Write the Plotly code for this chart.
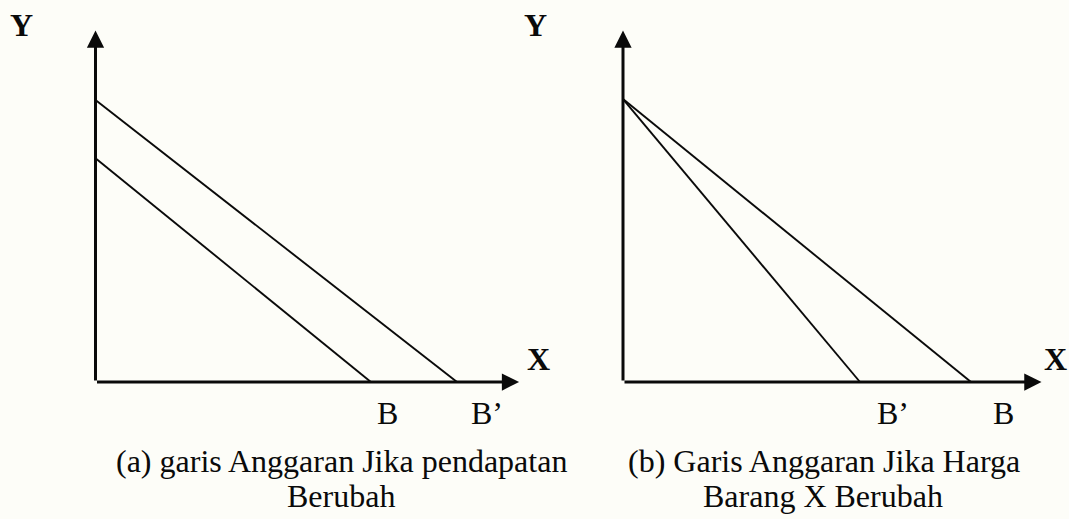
import plotly.graph_objects as go

# ---- data (schematic units) ----
# Panel (a): income change -> parallel budget lines
a_line_B_y = [7.46, 0]      # y-intercept, then 0
a_line_B_x = [0, 9.18]      # 0, then x-intercept B
a_line_Bp_y = [9.4, 0]
a_line_Bp_x = [0, 12.05]    # x-intercept B'
a_axis_x_max = 14.12
a_axis_y_max = 11.72

# Panel (b): price of X change -> rotated budget lines
b_line_Bp_y = [9.43, 0]
b_line_Bp_x = [0, 7.9]      # x-intercept B'
b_line_B_y = [9.43, 0]
b_line_B_x = [0, 11.6]      # x-intercept B
b_axis_x_max = 13.95
b_axis_y_max = 11.72

# labels
a_tick_labels = ["B", "B’"]
a_tick_pos = [9.72, 13.05]
b_tick_labels = ["B’", "B"]
b_tick_pos = [9.0, 12.67]
caption_a = ["(a) garis Anggaran Jika pendapatan", "Berubah"]
caption_b = ["(b) Garis Anggaran Jika Harga", "Barang X Berubah"]

W, H = 1069, 519
PX = 30.0  # pixels per unit
# origin pixel positions
ax0, bx0, y0 = 95.5, 623.0, 382.0

FONT = "Liberation Serif, Times New Roman, serif"
INK = "#0a0a0a"

fig = go.Figure()

line_style = dict(color=INK, width=1.9)
fig.add_trace(go.Scatter(x=a_line_B_x, y=a_line_B_y, mode="lines", line=line_style,
                         xaxis="x", yaxis="y", hoverinfo="skip"))
fig.add_trace(go.Scatter(x=a_line_Bp_x, y=a_line_Bp_y, mode="lines", line=line_style,
                         xaxis="x", yaxis="y", hoverinfo="skip"))
fig.add_trace(go.Scatter(x=b_line_Bp_x, y=b_line_Bp_y, mode="lines", line=line_style,
                         xaxis="x2", yaxis="y2", hoverinfo="skip"))
fig.add_trace(go.Scatter(x=b_line_B_x, y=b_line_B_y, mode="lines", line=line_style,
                         xaxis="x2", yaxis="y2", hoverinfo="skip"))

ann = []
def arrow(xr, yr, x, y):
    ann.append(dict(xref=xr, yref=yr, axref=xr, ayref=yr, x=x, y=y, ax=0, ay=0,
                    showarrow=True, arrowhead=2, arrowwidth=3, arrowsize=1.15,
                    arrowcolor=INK, text=""))

arrow("x", "y", a_axis_x_max, 0)
arrow("x", "y", 0, a_axis_y_max)
arrow("x2", "y2", b_axis_x_max, 0)
arrow("x2", "y2", 0, b_axis_y_max)

def label(xr, yr, x, y, text, bold=False, size=32):
    ann.append(dict(xref=xr, yref=yr, x=x, y=y, text=f"<b>{text}</b>" if bold else text,
                    showarrow=False, xanchor="center", yanchor="middle",
                    font=dict(family=FONT, size=size, color=INK)))

def to_y(py):
    return (y0 - py) / PX

# axis letters
label("x", "y", (21 - ax0) / PX, to_y(25), "Y", bold=True)
label("x", "y", (538 - ax0) / PX, to_y(359), "X", bold=True)
label("x2", "y2", (535 - bx0) / PX, to_y(25), "Y", bold=True)
label("x2", "y2", (1055 - bx0) / PX, to_y(359), "X", bold=True)

for t, p in zip(a_tick_labels, a_tick_pos):
    label("x", "y", p, to_y(412.5), t)
for t, p in zip(b_tick_labels, b_tick_pos):
    label("x2", "y2", p, to_y(412.5), t)

label("x", "y", (341 - ax0) / PX, to_y(461), caption_a[0])
label("x", "y", (341 - ax0) / PX, to_y(496), caption_a[1])
label("x2", "y2", (824 - bx0) / PX, to_y(461), caption_b[0])
label("x2", "y2", (823 - bx0) / PX, to_y(496), caption_b[1])

hidden = dict(visible=False, showgrid=False, zeroline=False, domain=[0, 1], fixedrange=True)
fig.update_layout(
    width=W, height=H,
    margin=dict(l=0, r=0, t=0, b=0),
    paper_bgcolor="#fdfdf8", plot_bgcolor="rgba(0,0,0,0)",
    showlegend=False,
    xaxis=dict(range=[-ax0 / PX, (W - ax0) / PX], **hidden),
    yaxis=dict(range=[-(H - y0) / PX, y0 / PX], **hidden),
    xaxis2=dict(range=[-bx0 / PX, (W - bx0) / PX], anchor="y2", **hidden),
    yaxis2=dict(range=[-(H - y0) / PX, y0 / PX], anchor="x2", **hidden),
    annotations=ann,
)

fig.write_html(
    "out.html",
    config={"displayModeBar": False},
    post_script="document.body.style.margin='0';document.body.style.background='#fdfdf8';",
)
